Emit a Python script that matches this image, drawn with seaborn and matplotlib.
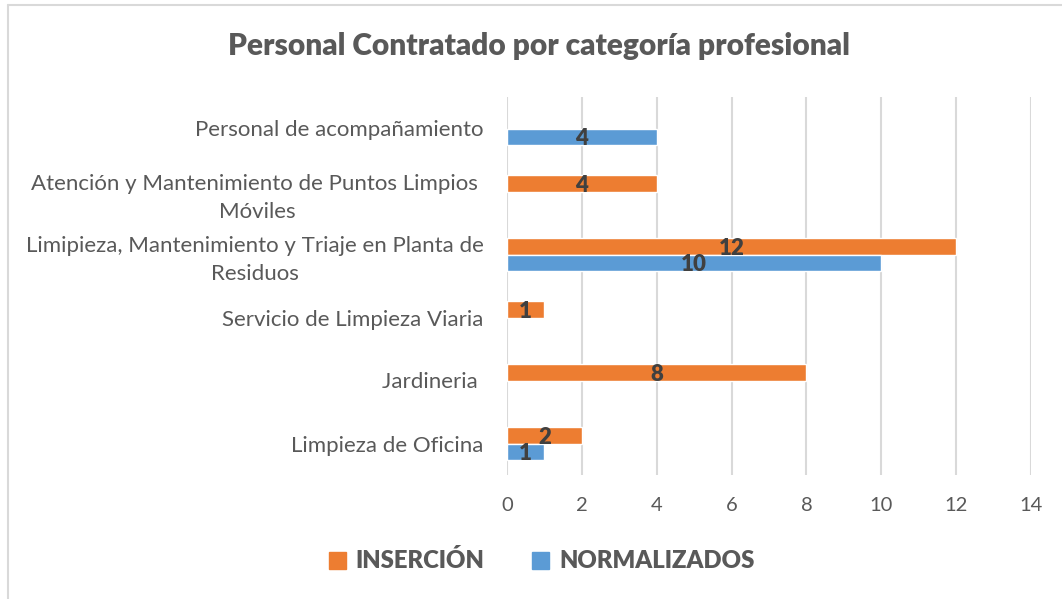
import numpy as np
import pandas as pd
import matplotlib
matplotlib.use("Agg")
import matplotlib.pyplot as plt
from matplotlib.patches import Patch
from matplotlib.lines import Line2D
import seaborn as sns

categories = [
    "Personal de acompañamiento",
    "Atención y Mantenimiento de Puntos Limpios \nMóviles",
    "Limipieza, Mantenimiento y Triaje en Planta de\nResiduos",
    "Servicio de Limpieza Viaria",
    "Jardineria ",
    "Limpieza de Oficina",
]
insercion = [np.nan, 4, 12, 1, 8, 2]
normalizados = [4, np.nan, 10, np.nan, np.nan, 1]
series_names = ["INSERCIÓN", "NORMALIZADOS"]
colors = ["#ED7D31", "#5B9BD5"]
x_ticks = [0, 2, 4, 6, 8, 10, 12, 14]
title = "Personal Contratado por categoría profesional"

rows = []
for cat, a, b in zip(categories, insercion, normalizados):
    rows.append({"categoria": cat, "serie": series_names[0], "valor": a})
    rows.append({"categoria": cat, "serie": series_names[1], "valor": b})
df = pd.DataFrame(rows).dropna()

sns.set_theme(style="white")
plt.rcParams["font.family"] = ["Lato", "DejaVu Sans"]

fig = plt.figure(figsize=(10.62, 5.99), dpi=100)
ax = fig.add_axes([507 / 1062, 1 - 475 / 599, 524 / 1062, 378 / 599])

sns.barplot(data=df, x="valor", y="categoria", hue="serie", order=categories,
            hue_order=series_names, palette=colors, orient="h", width=0.52,
            saturation=1, legend=False, ax=ax, errorbar=None)

for cont in ax.containers:
    labels = [f"{int(round(b.get_width()))}" for b in cont]
    ax.bar_label(cont, labels=labels, label_type="center", fontsize=16,
                 fontweight=800, color="#404040", padding=0)
for t in ax.texts:
    t.set_va("center_baseline")

ax.set_xlim(0, 14)
ax.set_xticks(x_ticks)
ax.set_xticklabels([str(v) for v in x_ticks])
ax.set_xlabel("")
ax.set_ylabel("")
for s in ax.spines.values():
    s.set_visible(False)
ax.grid(axis="x", color="#D9D9D9", linewidth=1.5)
ax.grid(axis="y", visible=False)
ax.set_axisbelow(True)
ax.tick_params(axis="x", length=0, pad=16, labelsize=14.5, labelcolor="#595959")
ax.tick_params(axis="y", length=0, pad=17, labelsize=16, labelcolor="#595959")
for lbl in ax.get_yticklabels():
    lbl.set_multialignment("center")
    lbl.set_linespacing(1.5)

fig.text(0.508, 1 - 46 / 599, title, ha="center", va="center", fontsize=21.5,
         fontweight=800, color="#595959")

handles = [Patch(facecolor=c, edgecolor=c) for c in colors]
leg = fig.legend(handles, series_names, loc="center", bbox_to_anchor=(0.51, 1 - 561 / 599),
                 ncol=2, frameon=False, handlelength=0.72, handleheight=0.72,
                 handletextpad=0.4, columnspacing=2.0,
                 prop={"size": 17.2, "weight": 800})
for t in leg.get_texts():
    t.set_color("#595959")

fig.add_artist(Line2D([8 / 1062, 1], [1 - 5 / 599, 1 - 5 / 599], transform=fig.transFigure,
                      color="#D9D9D9", linewidth=1.5))
fig.add_artist(Line2D([8 / 1062, 8 / 1062], [1 - 5 / 599, 0], transform=fig.transFigure,
                      color="#D9D9D9", linewidth=1.5))

fig.savefig("out.png", dpi=100)
